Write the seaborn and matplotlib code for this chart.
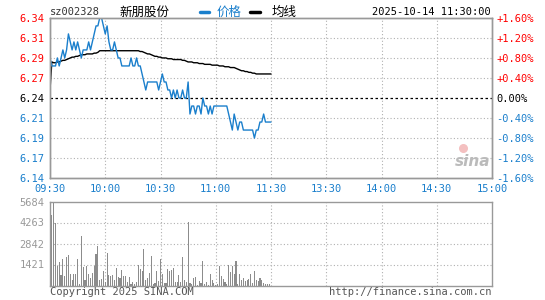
import matplotlib
matplotlib.use("Agg")
import matplotlib.pyplot as plt
import seaborn as sns
import pandas as pd
import numpy as np

# 新朋股份 分时 2025-10-14 (09:30 - 11:30)
prev_close = 6.24
price = [6.29, 6.28, 6.28, 6.28, 6.29, 6.28, 6.29, 6.30, 6.29, 6.30,
         6.32, 6.31, 6.30, 6.31, 6.30, 6.31, 6.30, 6.29, 6.30, 6.30,
         6.30, 6.31, 6.30, 6.31, 6.32, 6.33, 6.33, 6.34, 6.34, 6.33,
         6.32, 6.33, 6.31, 6.30, 6.30, 6.31, 6.30, 6.29, 6.29, 6.28,
         6.28, 6.28, 6.28, 6.28, 6.29, 6.28, 6.28, 6.29, 6.28, 6.28,
         6.27, 6.26, 6.25, 6.26, 6.26, 6.26, 6.26, 6.26, 6.26, 6.25,
         6.26, 6.27, 6.26, 6.26, 6.25, 6.25, 6.24, 6.25, 6.24, 6.25,
         6.24, 6.24, 6.25, 6.24, 6.24, 6.26, 6.22, 6.23, 6.23, 6.22,
         6.23, 6.23, 6.22, 6.24, 6.23, 6.23, 6.22, 6.23, 6.22, 6.23,
         6.23, 6.23, 6.23, 6.23, 6.23, 6.23, 6.23, 6.22, 6.21, 6.20,
         6.22, 6.21, 6.20, 6.21, 6.21, 6.20, 6.20, 6.20, 6.20, 6.20,
         6.20, 6.19, 6.20, 6.20, 6.21, 6.21, 6.22, 6.21, 6.21, 6.21,
         6.21]
avg = [6.250, 6.285, 6.284, 6.284, 6.285, 6.285, 6.286, 6.287, 6.287, 6.288,
       6.289, 6.290, 6.291, 6.291, 6.292, 6.292, 6.293, 6.294, 6.294, 6.294,
       6.295, 6.295, 6.295, 6.295, 6.296, 6.296, 6.297, 6.299, 6.299, 6.299,
       6.299, 6.299, 6.299, 6.299, 6.299, 6.299, 6.299, 6.299, 6.299, 6.299,
       6.299, 6.299, 6.299, 6.299, 6.299, 6.299, 6.299, 6.299, 6.299, 6.298,
       6.298, 6.297, 6.296, 6.295, 6.295, 6.294, 6.293, 6.292, 6.292, 6.291,
       6.291, 6.290, 6.290, 6.290, 6.289, 6.289, 6.289, 6.288, 6.288, 6.288,
       6.288, 6.288, 6.287, 6.287, 6.286, 6.285, 6.285, 6.285, 6.284, 6.284,
       6.284, 6.283, 6.283, 6.283, 6.282, 6.282, 6.282, 6.282, 6.281, 6.281,
       6.281, 6.281, 6.280, 6.280, 6.280, 6.279, 6.279, 6.279, 6.278, 6.278,
       6.278, 6.277, 6.276, 6.275, 6.274, 6.274, 6.273, 6.273, 6.272, 6.272,
       6.271, 6.271, 6.270, 6.270, 6.270, 6.270, 6.270, 6.270, 6.270, 6.270,
       6.270]
volume = [300, 4800, 5684, 4245, 1290, 1580, 680, 1760, 630, 1900, 2080,
          750, 400, 810, 750, 1760, 110, 3320, 1240, 340, 1290,
          790, 520, 860, 1290, 2130, 2640, 340, 450, 950, 230,
          2170, 680, 630, 680, 340, 1200, 560, 500, 1020, 610,
          660, 270, 560, 90, 230, 90, 270, 1400, 1150, 950,
          2440, 340, 500, 860, 2030, 130, 160, 950, 320,
          1760, 750, 180, 180, 1130, 1000, 1060, 1200, 270, 270,
          680, 270, 1960, 400, 270, 4330, 180, 110, 500, 560,
          45, 320, 180, 1690, 110, 230, 45, 750, 340, 180,
          45, 130, 1290, 610, 430, 270, 90, 1380, 900, 1290,
          770, 1640, 130, 770, 380, 500, 290, 400, 450, 750,
          180, 950, 340, 290, 500, 340, 160, 70, 70, 120]
time_labels = ["09:30", "10:00", "10:30", "11:00", "11:30", "13:30", "14:00", "14:30", "15:00"]
price_labels = ["6.34", "6.31", "6.29", "6.27", "6.24", "6.21", "6.19", "6.17", "6.14"]
pct_labels = ["+1.60%", "+1.20%", "+0.80%", "+0.40%", "0.00%", "-0.40%", "-0.80%", "-1.20%", "-1.60%"]
vol_labels = ["5684", "4263", "2842", "1421"]

sns.set_style("white")
plt.rcParams['font.family'] = ['DejaVu Sans Mono', 'Noto Sans CJK SC']

BLUE = "#1a7fcc"
RED = "#ff0000"
GRAY = "#999999"
GRID = "#b0b0b0"

df = pd.DataFrame({"m": np.arange(len(price)), "price": price, "avg": avg})
vdf = pd.DataFrame({"m": np.arange(len(volume)), "vol": volume})

fig = plt.figure(figsize=(5.45, 3.0), dpi=100)
ax = fig.add_axes([50 / 545, 122 / 300, 442 / 545, 160 / 300])
axv = fig.add_axes([50 / 545, 14.5 / 300, 442 / 545, 84 / 300])

sns.lineplot(data=df, x="m", y="avg", color="black", linewidth=1.0, ax=ax)
sns.lineplot(data=df, x="m", y="price", color=BLUE, linewidth=1.0, ax=ax)

lo, hi = prev_close * 0.984, prev_close * 1.016
yt = np.linspace(hi, lo, 9)
ax.set_xlim(0, 240)
ax.set_ylim(lo, hi)
ax.set_xticks(np.arange(0, 241, 30))
ax.set_xticklabels(time_labels)
ax.set_yticks(yt)
ax.set_yticklabels(price_labels)
ax.set_xlabel("")
ax.set_ylabel("")
for x in range(30, 240, 30):
    ax.axvline(x, color=GRID, linestyle=(0, (1, 2)), linewidth=0.8, zorder=0)
for y in yt[1:-1]:
    if abs(y - prev_close) < 1e-6:
        ax.axhline(y, color="black", linestyle=(0, (2, 2)), linewidth=0.9, zorder=1)
    else:
        ax.axhline(y, color=GRID, linestyle=(0, (1, 2)), linewidth=0.8, zorder=0)
ax.tick_params(length=0, labelsize=7.5, pad=4)
for i, t in enumerate(ax.get_yticklabels()):
    t.set_color(RED if i < 4 else ("black" if i == 4 else BLUE))
for t in ax.get_xticklabels():
    t.set_color(BLUE)

ax2 = ax.twinx()
ax2.set_ylim(lo, hi)
ax2.set_yticks(yt)
ax2.set_yticklabels(pct_labels)
ax2.tick_params(length=0, labelsize=7.5, pad=3)
for i, t in enumerate(ax2.get_yticklabels()):
    t.set_color(RED if i < 4 else ("black" if i == 4 else BLUE))

for a in (ax, ax2, axv):
    for s in a.spines.values():
        s.set_color(GRAY)
        s.set_linewidth(1.0)

sns.barplot(data=vdf, x="m", y="vol", native_scale=True, color="#8c8c8c",
            width=0.6, linewidth=0, saturation=1, ax=axv)
axv.set_xlim(0, 240)
axv.set_ylim(0, 5684)
axv.set_xticks([])
axv.set_yticks([5684, 4263, 2842, 1421])
axv.set_yticklabels(vol_labels)
axv.set_xlabel("")
axv.set_ylabel("")
axv.tick_params(length=0, labelsize=7.5, pad=4, colors=GRAY)
for x in range(30, 240, 30):
    axv.axvline(x, color=GRID, linestyle=(0, (1, 2)), linewidth=0.8, zorder=0)
for y in [1421, 2842, 4263]:
    axv.axhline(y, color=GRID, linestyle=(0, (1, 2)), linewidth=0.8, zorder=0)

# header
fig.text(50 / 545, 1 - 12 / 300, "sz002328", fontsize=7.5, color="#333333", va="center", ha="left")
fig.text(144 / 545, 1 - 12 / 300, "新朋股份", fontsize=9, color="black", va="center", ha="center",
         family=["Noto Sans CJK SC", "DejaVu Sans"])
fig.lines.append(plt.Line2D([200 / 545, 209 / 545], [1 - 12 / 300] * 2, color=BLUE, lw=2.5,
                            transform=fig.transFigure))
fig.text(217 / 545, 1 - 12 / 300, "价格", fontsize=9, color=BLUE, va="center", ha="left",
         family=["Noto Sans CJK SC", "DejaVu Sans"])
fig.lines.append(plt.Line2D([250 / 545, 260 / 545], [1 - 12 / 300] * 2, color="black", lw=2.5,
                            transform=fig.transFigure))
fig.text(272 / 545, 1 - 12 / 300, "均线", fontsize=9, color="black", va="center", ha="left",
         family=["Noto Sans CJK SC", "DejaVu Sans"])
fig.text(491 / 545, 1 - 12 / 300, "2025-10-14 11:30:00", fontsize=7.5, color="black",
         va="center", ha="right")

# footer
fig.text(50 / 545, 1 - 292 / 300, "Copyright 2025 SINA.COM", fontsize=7.5, color="#555555",
         va="center", ha="left")
fig.text(491 / 545, 1 - 292 / 300, "http://finance.sina.com.cn", fontsize=7.5, color="#555555",
         va="center", ha="right")

# watermark
ax.text(0.955, 0.1, "sina", transform=ax.transAxes, fontsize=11, color="#bbbbbb",
        style="italic", fontweight="bold", ha="center", va="center",
        family=["DejaVu Sans"], zorder=0)
ax.scatter([0.935], [0.19], s=30, color="#f4c0c0", transform=ax.transAxes, zorder=0)

fig.savefig("out.png", dpi=100)
